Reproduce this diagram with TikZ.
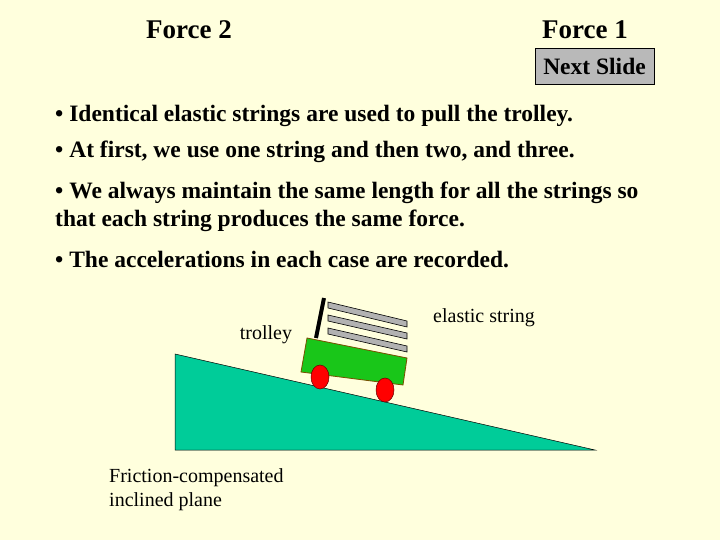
\documentclass[tikz,border=0pt]{standalone}
\usepackage{fontspec}
\setmainfont{Liberation Serif}
\begin{document}
\begin{tikzpicture}[x=1pt,y=-1pt,
  bt/.style={anchor=west,font=\bfseries\fontsize{23.5}{28}\selectfont,inner sep=0},
  st/.style={font=\fontsize{20}{24}\selectfont,inner sep=0,align=left},
  bar/.style={draw=black,fill=gray!60,line width=0.6pt}]
\definecolor{bg}{RGB}{255,255,221}
\definecolor{plane}{RGB}{0,204,153}
\fill[bg] (0,0) rectangle (720,540);
\useasboundingbox (0,0) rectangle (720,540);
\node[bt,anchor=center] (f2) at (189,30) {\fontsize{27}{30}\selectfont Force 2};
\node[bt,anchor=center] (f1) at (585,30) {\fontsize{27}{30}\selectfont Force 1};
\node[draw=black,fill=gray!55,minimum width=119,minimum height=36,inner sep=0,font=\bfseries\fontsize{23.5}{28}\selectfont] (ns) at (594.5,66) {Next Slide};
\node[bt] (b1) at (55,116) {\textbullet\ Identical elastic strings are used to pull the trolley.};
\node[bt] (b2) at (55,152) {\textbullet\ At first, we use one string and then two, and three.};
\node[bt] (b3) at (55,193) {\textbullet\ We always maintain the same length for all the strings so};
\node[bt] (b3b) at (55,221) {that each string produces the same force.};
\node[bt] (b4) at (55,260) {\textbullet\ The accelerations in each case are recorded.};
\fill[plane,draw=black,line width=0.5pt] (175,354) -- (175,450) -- (595,450) -- cycle;
\draw[bar] (328,302) -- (407,321) -- (407,327) -- (328,308) -- cycle;
\draw[bar] (328,315) -- (407,333) -- (407,339) -- (328,321) -- cycle;
\draw[bar] (328,328) -- (407,346) -- (407,352) -- (328,334) -- cycle;
\draw[line width=4pt] (324,298) -- (316,338);
\fill[green!75!black!90,draw={rgb,255:red,120;green,80;blue,0},line width=0.8pt] (307,338) -- (407,358) -- (403,385) -- (301,372) -- cycle;
\fill[red,draw=black!60!red,line width=0.5pt] (320,377) ellipse (9 and 12);
\fill[red,draw=black!60!red,line width=0.5pt] (385,390) ellipse (9 and 12);
\node[st] (tr) at (266,335) {trolley};
\node[st] (es) at (484,318) {elastic string};
\node[st,anchor=west] (fc) at (109,490) {Friction-compensated\\inclined plane};
\end{tikzpicture}
\end{document}
